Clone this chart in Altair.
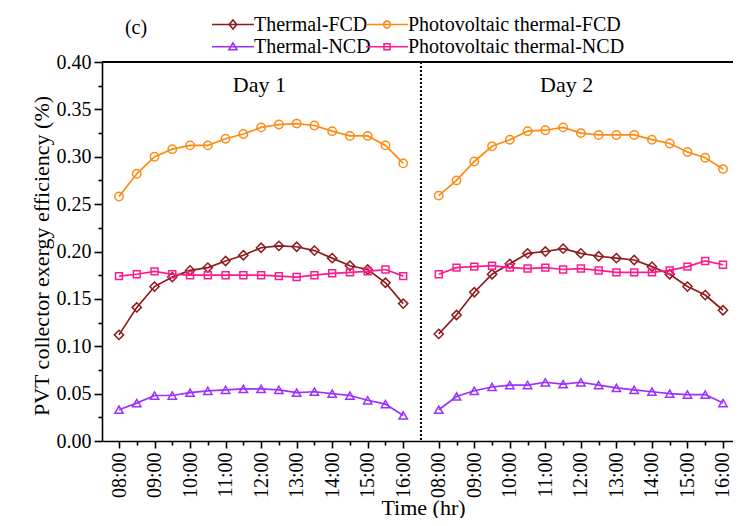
import json
import altair as alt
import pandas as pd

# ---------------- data ----------------
hour_labels = ["08:00", "09:00", "10:00", "11:00", "12:00", "13:00", "14:00", "15:00", "16:00"]
series_names = ["Thermal-FCD", "Photovoltaic thermal-FCD", "Thermal-NCD", "Photovoltaic thermal-NCD"]
series_colors = ["#8E1B1B", "#FF8A12", "#9B30FF", "#FF1A8C"]
series_shapes = ["diamond", "circle", "triangle-up", "square"]
series_sizes = [85, 70, 70, 48]

# half-hourly readings, 08:00 ... 16:00 (17 values per day)
thermal_fcd_d1 = [0.112, 0.141, 0.163, 0.173, 0.180, 0.183, 0.190, 0.196, 0.204, 0.206, 0.205, 0.201, 0.193, 0.185, 0.181, 0.167, 0.145]
pvt_fcd_d1 = [0.258, 0.282, 0.300, 0.308, 0.312, 0.312, 0.319, 0.324, 0.331, 0.334, 0.335, 0.333, 0.327, 0.322, 0.322, 0.312, 0.293]
thermal_ncd_d1 = [0.033, 0.040, 0.048, 0.048, 0.051, 0.053, 0.054, 0.055, 0.055, 0.054, 0.051, 0.052, 0.050, 0.048, 0.043, 0.039, 0.027]
pvt_ncd_d1 = [0.174, 0.176, 0.179, 0.176, 0.175, 0.175, 0.175, 0.175, 0.175, 0.174, 0.173, 0.175, 0.177, 0.178, 0.179, 0.181, 0.174]

thermal_fcd_d2 = [0.113, 0.133, 0.157, 0.176, 0.187, 0.198, 0.200, 0.203, 0.198, 0.195, 0.193, 0.191, 0.184, 0.176, 0.163, 0.154, 0.138]
pvt_fcd_d2 = [0.259, 0.275, 0.295, 0.311, 0.318, 0.327, 0.328, 0.331, 0.325, 0.323, 0.323, 0.323, 0.318, 0.314, 0.305, 0.299, 0.287]
thermal_ncd_d2 = [0.033, 0.047, 0.053, 0.057, 0.059, 0.059, 0.062, 0.060, 0.062, 0.059, 0.056, 0.054, 0.052, 0.050, 0.049, 0.049, 0.040]
pvt_ncd_d2 = [0.176, 0.183, 0.184, 0.185, 0.183, 0.182, 0.183, 0.181, 0.182, 0.180, 0.178, 0.178, 0.178, 0.180, 0.184, 0.190, 0.186]

day1_values = [thermal_fcd_d1, pvt_fcd_d1, thermal_ncd_d1, pvt_ncd_d1]
day2_values = [thermal_fcd_d2, pvt_fcd_d2, thermal_ncd_d2, pvt_ncd_d2]

day_names = ["Day 1", "Day 2"]
day_offsets = [0, 18]          # day 2 starts two half-hour slots after day 1 ends
day_label_x = [7.9, 25.2]
day_label_y = [0.376, 0.376]
divider_idx = [17]

y_major = [0.0, 0.05, 0.10, 0.15, 0.20, 0.25, 0.30, 0.35, 0.40]
y_minor = [0.025, 0.075, 0.125, 0.175, 0.225, 0.275, 0.325, 0.375]

rows = []
for name, d1, d2 in zip(series_names, day1_values, day2_values):
    for day, off, vals in zip(day_names, day_offsets, [d1, d2]):
        for i, v in enumerate(vals):
            rows.append({"series": name, "day": day, "idx": i + off, "value": v})
df = pd.DataFrame(rows)

x_major = [i + off for off in day_offsets for i in range(0, 17, 2)]
x_minor = [i + off for off in day_offsets for i in range(1, 17, 2)]

W, H = 631, 379
FONT = "Liberation Serif"

xscale = alt.Scale(domain=[-0.957, 34.563], nice=False, zero=False)
yscale = alt.Scale(domain=[0, 0.40], nice=False, zero=False)

# legend glyphs: a line segment with the series marker in its middle
legend_paths = [
    "M-5.25,0H5.25M0,-1.15L0.95,0L0,1.15L-0.95,0Z",
    "M-5.25,0H5.25M0.85,0A0.85,0.85,0,1,1,-0.85,0A0.85,0.85,0,1,1,0.85,0Z",
    "M-5.25,0H5.25M0,-1L1,0.75L-1,0.75Z",
    "M-5.25,0H5.25M-0.75,-0.75H0.75V0.75H-0.75Z",
]

label_expr = json.dumps(hour_labels) + "[(datum.value % 18) / 2]"

x_axis_major = alt.Axis(
    orient="bottom", values=x_major, labelExpr=label_expr, labelAngle=270, tickSize=7,
    labelPadding=4, labelFlush=False, labelOverlap=False, labelBound=False,
    title="Time (hr)", titleX=321, titleY=66, titleBaseline="middle",
    titleAlign="center", grid=False,
)
y_axis_major = alt.Axis(
    orient="left", values=y_major, format=".2f", tickSize=8, labelPadding=3,
    labelFlush=False, labelOverlap=False,
    title="PVT collector exergy efficiency (%)", titleX=-61, titleY=H / 2 + 4,
    titleBaseline="middle", titleAlign="center", titleAngle=270, grid=False,
)
x_axis_minor = alt.Axis(orient="bottom", values=x_minor, labels=False, tickSize=4, domain=False, title=None, grid=False)
y_axis_minor = alt.Axis(orient="left", values=y_minor, labels=False, tickSize=4, domain=False, title=None, grid=False)

base = alt.Chart(df)

series_layers = []
for k, (name, col, shp, sz) in enumerate(zip(series_names, series_colors, series_shapes, series_sizes)):
    sub = base.transform_filter(alt.datum.series == name)
    ln = sub.mark_line(strokeWidth=1.7, color=col).encode(
        x=alt.X("idx:Q", scale=xscale, axis=x_axis_major if k == 0 else None),
        y=alt.Y("value:Q", scale=yscale, axis=y_axis_major if k == 0 else None),
        detail="day:N",
    )
    pt = sub.mark_point(shape=shp, filled=False, size=sz, strokeWidth=1.5, opacity=1, color=col).encode(
        x=alt.X("idx:Q", scale=xscale, axis=None),
        y=alt.Y("value:Q", scale=yscale, axis=None),
    )
    series_layers += [ln, pt]

leg = alt.Legend(
    title=None, orient="none", legendX=121, legendY=-47.5, columns=2, direction="horizontal",
    labelFont=FONT, labelFontSize=20, labelColor="black", labelLimit=400,
    labelOffset=11, symbolSize=64, symbolStrokeWidth=1.6, symbolOpacity=1,
    rowPadding=2.3, columnPadding=-9, padding=0,
)
legend_layer = alt.Chart(pd.DataFrame({"series": series_names})).mark_point(
    filled=False, strokeWidth=1.6, opacity=0
).encode(
    color=alt.Color("series:N", scale=alt.Scale(domain=series_names, range=series_colors), legend=leg),
    shape=alt.Shape("series:N", scale=alt.Scale(domain=series_names, range=legend_paths), legend=leg),
)

divider = alt.Chart(pd.DataFrame({"idx": divider_idx})).mark_rule(
    color="black", strokeWidth=2, strokeDash=[2, 2]
).encode(x=alt.X("idx:Q", scale=xscale, axis=x_axis_minor))

day_text = alt.Chart(pd.DataFrame({"label": day_names, "x": day_label_x, "y": day_label_y})).mark_text(
    font=FONT, fontSize=22, color="black", baseline="middle", align="center"
).encode(
    x=alt.X("x:Q", scale=xscale, axis=None),
    y=alt.Y("y:Q", scale=yscale, axis=y_axis_minor),
    text="label:N",
)

panel_tag = alt.Chart(pd.DataFrame({"t": ["(c)"]})).mark_text(
    font=FONT, fontSize=20, color="black", baseline="middle", align="center"
).encode(x=alt.value(34), y=alt.value(-34), text="t:N")

top_border = alt.Chart(pd.DataFrame({"k": [0]})).mark_rule(color="black", strokeWidth=1.8).encode(
    x=alt.value(0), x2=alt.value(W), y=alt.value(0)
)

chart = alt.layer(
    *series_layers, legend_layer, divider, day_text, panel_tag, top_border
).resolve_axis(x="independent", y="independent").properties(
    width=W, height=H,
    autosize=alt.AutoSizeParams(type="none"),
    padding={"left": 94, "top": 54, "right": 0, "bottom": 77},
).configure_view(stroke=None).configure_axis(
    domainColor="black", tickColor="black", domainWidth=1.6, tickWidth=1.6,
    labelColor="black", labelFont=FONT, labelFontSize=20,
    titleFont=FONT, titleFontSize=22, titleFontWeight="normal", titleColor="black",
).configure_legend(
    labelFont=FONT, labelFontSize=20, labelColor="black"
)

chart.save("out.html", embed_options={"renderer": "svg", "actions": False})
